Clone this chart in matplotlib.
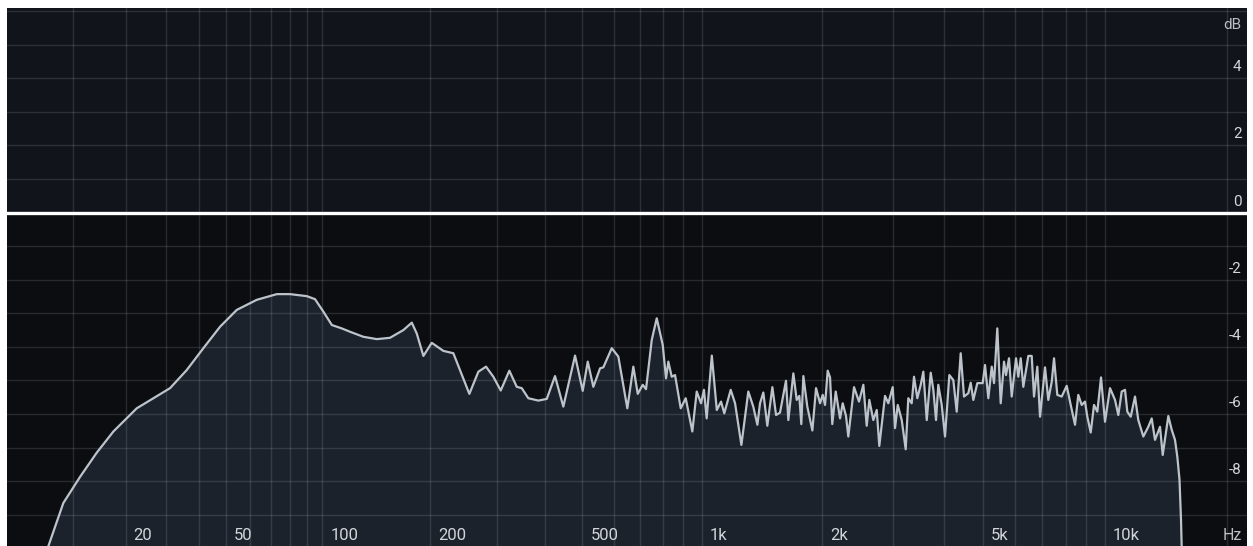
import numpy as np
import matplotlib.pyplot as plt
from matplotlib import transforms

plt.rcParams['font.family'] = ['Roboto', 'DejaVu Sans']

# spectrum (Hz, dB)
freq_hz = [
    4.8, 6.2, 8.42, 11.15, 14.14, 17.41, 22.56, 26.66, 31.19, 36.17,
    41.61, 47.63, 54.23, 63.0, 72.9, 80.0, 89.9, 95.1, 100.6, 106.5,
    113.7, 120.1, 131.0, 142.9, 155.5, 169.2, 178.4, 184.0, 191.8, 202.0,
    217.0, 230.8, 240.4, 254.5, 268.8, 281.6, 294.3, 307.7, 324.0, 338.7,
    349.0, 363.0, 385.3, 405.0,
    425.3, 446.7, 478.7, 500.8, 515.8, 533.0, 554.4, 565.2, 593.7, 617.0,
    650.2, 673.4, 690.9, 711.3, 725.0, 749.4, 771.5, 798.8, 814.3, 825.2,
    841.6, 857.9, 886.6, 912.6, 948.1, 972.5, 997.0, 1014, 1030, 1061,
    1092, 1119, 1140, 1183, 1213, 1258, 1309, 1347, 1379, 1400,
    1427, 1460, 1503, 1535, 1570, 1625, 1647, 1695, 1728, 1754,
    1774, 1795, 1836, 1890, 1930, 1975, 2005, 2032, 2063, 2091,
    2118, 2160, 2214, 2248, 2291, 2321, 2398, 2467, 2529, 2578,
    2617, 2677, 2730, 2770, 2862, 2916, 2990, 3030, 3077, 3148,
    3220, 3268, 3332, 3376, 3440, 3508, 3560, 3630, 3713, 3769,
    3827, 3877, 3953, 4028, 4128, 4223, 4305, 4404, 4488, 4599,
    4662, 4732, 4841,
    4991, 5057, 5153, 5254, 5323, 5423, 5529, 5634, 5698, 5796,
    5886, 6032, 6111, 6195, 6287, 6468, 6594, 6681, 6807, 6913,
    7112, 7246, 7388, 7485, 7626, 7819, 8044, 8229, 8433, 8591,
    8760, 8925, 9042, 9219, 9393, 9571, 9774, 9998, 10286, 10582,
    10782, 10992, 11200, 11347, 11568, 11853, 12077, 12425, 12782, 13031,
    13277, 13660, 13870, 14318, 14597, 14872, 15068, 15257, 15387, 15518,
]
level_db = [
    -10.8, -9.93, -8.65, -7.87, -7.15, -6.52, -5.83, -5.53, -5.23, -4.69,
    -4.04, -3.40, -2.90, -2.60, -2.43, -2.43, -2.49, -2.58, -2.95, -3.35,
    -3.45, -3.55, -3.70, -3.77, -3.73, -3.50, -3.28, -3.60, -4.27, -3.88,
    -4.12, -4.19, -4.69, -5.40, -4.74, -4.59, -4.89, -5.30, -4.71, -5.19,
    -5.23, -5.53, -5.60, -5.55,
    -4.87, -5.78, -4.26, -5.31, -4.44, -5.19, -4.64, -4.61, -4.04, -4.29,
    -5.83, -4.59, -5.40, -5.13, -5.26, -3.80, -3.15, -3.94, -4.94, -4.44,
    -4.89, -4.84, -5.83, -5.53, -6.52, -5.33, -5.68, -5.28, -6.13, -4.26,
    -5.88, -5.63, -5.98, -5.28, -5.68, -6.92, -5.33, -5.78, -6.32, -5.68,
    -5.36, -6.35, -5.20, -6.03, -5.96, -5.01, -6.18, -4.79, -5.58, -5.46,
    -6.30, -4.87, -5.78, -6.49, -5.23, -5.68, -5.43, -5.73, -4.71, -4.91,
    -6.30, -5.33, -6.13, -5.68, -6.06, -6.67, -5.20, -5.63, -5.13, -6.35,
    -5.58, -6.18, -5.88, -6.95, -5.46, -5.68, -5.20, -6.42, -5.73, -6.18,
    -7.05, -5.53, -5.68, -4.89, -5.53, -5.13, -4.74, -6.18, -4.77, -5.28,
    -6.18, -5.13, -5.73, -6.67, -4.84, -4.99, -5.93, -4.19, -5.48, -5.38,
    -5.07, -5.58, -5.08,
    -5.08, -4.54, -5.53, -4.59, -5.08, -3.45, -5.68, -4.44, -4.84, -4.34,
    -5.48, -4.34, -4.89, -4.34, -5.19, -4.27, -4.27, -5.48, -4.59, -6.08,
    -4.61, -5.58, -5.04, -4.34, -5.43, -5.48, -5.16, -5.73, -6.32, -5.43,
    -5.73, -5.63, -6.08, -6.55, -5.73, -5.93, -4.91, -6.23, -5.23, -5.58,
    -6.03, -5.33, -5.28, -5.93, -6.08, -5.48, -6.18, -6.67, -6.38, -6.13,
    -6.77, -6.38, -7.22, -6.06, -6.47, -6.77, -7.27, -7.96, -9.15, -10.94,
]

db_ticks = [4, 2, 0, -2, -4, -6, -8]
hz_ticks = [20, 50, 100, 200, 500, 1000, 2000, 5000, 10000]
hz_labels = ['20', '50', '100', '200', '500', '1k', '2k', '5k', '10k']
grid_hz = ([10, 20, 30, 40, 50, 60, 70, 80, 90]
           + [100, 200, 300, 400, 500, 600, 700, 800, 900]
           + [1000, 2000, 3000, 4000, 5000, 6000, 7000, 8000, 9000]
           + [10000, 20000])
grid_db = list(range(-9, 7))


# analyzer frequency axis: log of (f + 19 Hz)
def fwd(f):
    return np.log10(np.asarray(f, dtype=float) + 19.0)


def inv(u):
    return 10 ** np.asarray(u, dtype=float) - 19.0


fig = plt.figure(figsize=(12.53, 5.46), dpi=100, facecolor='white')
ax = fig.add_axes([7 / 1253, 0, 1240 / 1253, 538 / 546])
ax.set_xscale('function', functions=(fwd, inv))
ax.set_xlim(0.93, 22370)
ax.set_ylim(-9.93, 6.09)

ax.set_facecolor('#11141b')
ax.axhspan(-20, 0, color='#0b0d10', zorder=0)

ax.fill_between(freq_hz, level_db, -20, color='#1b222b', lw=0, zorder=1)
ax.plot(freq_hz, level_db, color='#bcc3ca', lw=1.6, zorder=3)
ax.axhline(0, color='white', lw=2.4, zorder=4)

ax.set_xticks(grid_hz)
ax.set_yticks(grid_db)
ax.set_xticks([], minor=True)
ax.tick_params(which='both', length=0, labelbottom=False, labelleft=False)
ax.set_axisbelow(False)
ax.grid(True, color='#d8dee6', alpha=0.14, lw=1)
for s in ax.spines.values():
    s.set_visible(False)

txt_col = '#d2d5d9'
tx = transforms.blended_transform_factory(ax.transData, ax.transAxes)
tx = transforms.offset_copy(tx, fig=fig, x=8, y=0, units='dots')
for f, lab in zip(hz_ticks, hz_labels):
    ax.text(f, 0.0186, lab, transform=tx, ha='left', va='center',
            fontsize=12, color=txt_col)

ty = transforms.blended_transform_factory(ax.transAxes, ax.transData)
for v in db_ticks:
    ax.text(0.9956, v, str(v),
            transform=transforms.offset_copy(ty, fig=fig, x=0, y=11, units='dots'),
            ha='right', va='center', fontsize=11, color=txt_col)
ax.text(0.9956, 5, 'dB',
        transform=transforms.offset_copy(ty, fig=fig, x=0, y=20, units='dots'),
        ha='right', va='center', fontsize=11, color='#bcc0c6')
ax.text(0.9956, 0.0186, 'Hz', transform=ax.transAxes, ha='right', va='center',
        fontsize=11.5, color='#bcc0c6')

fig.savefig('out.png', dpi=100, facecolor='white')
